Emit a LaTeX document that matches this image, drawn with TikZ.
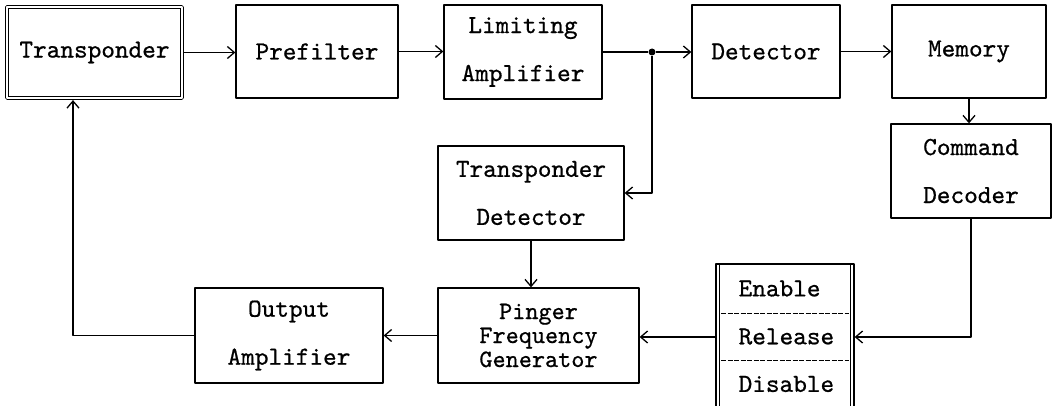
\documentclass[tikz,border=0pt]{standalone}
\usepackage{fontspec}
\newfontfamily\blkfont{lmmono10-regular.otf}[FakeBold=0.7]
\usetikzlibrary{arrows.meta}
\begin{document}
\begin{tikzpicture}[x=1pt, y=-1pt, line width=1.3pt, line join=round,
		font=\blkfont\fontsize{26}{48}\selectfont, >={Straight Barb[length=7pt,width=12pt]},
		blk/.style={draw, inner sep=0pt, align=center},
		divider/.style={line width=0.6pt, dash pattern=on 5pt off 1.5pt}]
	\useasboundingbox (0,0) rectangle (1057,406);
	% top row
	\node[blk, double, double distance=1.6pt, line width=1pt, outer sep=2.1pt, minimum width=175pt, minimum height=91pt] (tr) at (94.5,52.5) {Transponder};
	\node[blk, minimum width=162pt, minimum height=93pt] (pf) at (317,51.5) {Prefilter};
	\node[blk, minimum width=158pt, minimum height=94pt] (la) at (523,52) {Limiting\\Amplifier};
	\node[blk, minimum width=148pt, minimum height=93pt] (det) at (766,51.5) {Detector};
	\node[blk, minimum width=154pt, minimum height=93pt] (mem) at (969,51.5) {Memory};
	\node[circle, fill, inner sep=0pt, minimum size=7pt] (sp) at (652,52) {};
	% middle and bottom
	\node[blk, minimum width=160pt, minimum height=94pt] (cd) at (971,171) {Command\\Decoder};
	\node[blk, minimum width=186pt, minimum height=94pt] (td) at (531,193) {Transponder\\Detector};
	\node[blk, minimum width=201pt, minimum height=95pt, font=\blkfont\fontsize{25}{24}\selectfont] (pfg) at (538.5,335.5) {Pinger\\Frequency\\Generator};
	\node[blk, minimum width=188pt, minimum height=95pt] (oa) at (289,335.5) {Output\\Amplifier};
	% switch box
	\node[blk, minimum width=138pt, minimum height=146pt] (sel) at (785,337) {};
	\draw ([xshift=4pt]sel.north west) -- ([xshift=4pt]sel.south west);
	\draw ([xshift=-4pt]sel.north east) -- ([xshift=-4pt]sel.south east);
	\draw[divider] (721,313) -- (849,313) (721,360) -- (849,360);
	\node[anchor=west, inner sep=0pt] (en) at (738,288.5) {Enable};
	\node[anchor=west, inner sep=0pt] (re) at (738,336.5) {Release};
	\node[anchor=west, inner sep=0pt] (di) at (738,384) {Disable};
	% signal path
	\draw[->] (tr.east) -- (tr.east -| pf.west);
	\draw[->] (pf.east) -- (pf.east -| la.west);
	\draw (la.east) -- (sp);
	\draw[->] (sp) -- (sp -| det.west);
	\draw[->] (sp) |- (td.east);
	\draw[->] (det.east) -- (det.east -| mem.west);
	\draw[->] (mem.south) -- (mem.south |- cd.north);
	\draw[->] (cd.south) |- (sel.east);
	\draw[->] (sel.west) -- (sel.west -| pfg.east);
	\draw[->] (td.south) -- (td.south |- pfg.north);
	\draw[->] (pfg.west) -- (pfg.west -| oa.east);
	\draw[->] (oa.west) -| ([xshift=-21.5pt]tr.south);
\end{tikzpicture}
\end{document}
